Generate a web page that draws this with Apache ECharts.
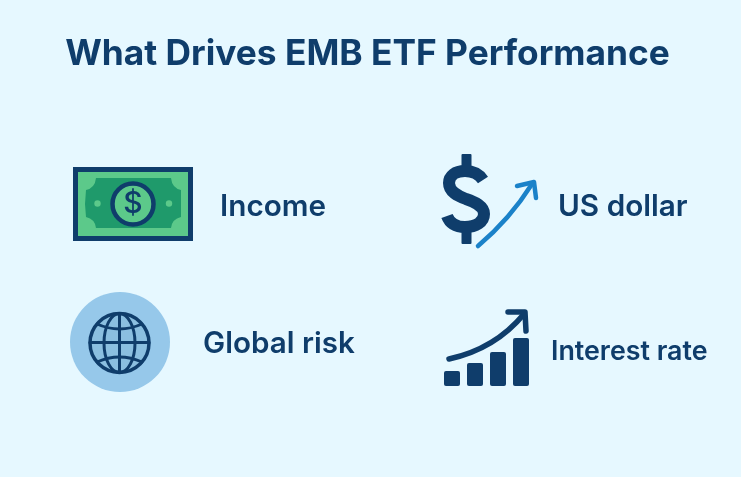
<!DOCTYPE html>
<html>
<head>
<meta charset="utf-8">
<style>html,body{margin:0;padding:0;background:#e6f8ff}#c{width:741px;height:477px}</style>
<script src="https://cdn.jsdelivr.net/npm/echarts@6/dist/echarts.min.js"></script>
</head>
<body>
<div id="c"></div>
<script>
const titleText = 'What Drives EMB ETF Performance';
const driverLabels = ['Income', 'US dollar', 'Global risk', 'Interest rate'];
const barCategories = ['a', 'b', 'c', 'd'];
const barValues = [15, 23, 34, 48];

const NAVY = '#0f3d6b', BLUE = '#1b82c9';
const stroke = (w, c) => ({ stroke: c || NAVY, lineWidth: w, fill: null, lineCap: 'round', lineJoin: 'round' });
let shapeCount = 0;
const raw = (d, style) => {
  const name = 'iconPath' + (shapeCount++);
  echarts.graphic.registerShape(name, echarts.graphic.extendPath(d, {}));
  return { type: name, style };
};
const label = (t, x, y, size) => ({ type: 'text', x, y, style: { text: t, fill: NAVY, font: '600 ' + size + 'px Inter', textAlign: 'left', textVerticalAlign: 'middle' } });

const chart = echarts.init(document.getElementById('c'), null, { renderer: 'canvas' });
chart.setOption({
  backgroundColor: '#e6f8ff',
  animation: false,
  grid: { left: 440.5, top: 336, width: 92, height: 50, containLabel: false },
  xAxis: { type: 'category', data: barCategories, show: false },
  yAxis: { type: 'value', min: 0, max: 50, show: false },
  series: [{
    type: 'bar', data: barValues, barWidth: 16,
    itemStyle: { color: NAVY, borderRadius: 2 }, silent: true
  }],
  graphic: { elements: [
    { type: 'text', x: 367.5, y: 54, style: { text: titleText, fill: NAVY, font: '700 35.3px Inter', textAlign: 'center', textVerticalAlign: 'middle' } },

    // banknote
    { type: 'rect', shape: { x: 75.5, y: 169.5, width: 115, height: 69 }, style: { fill: '#5cc98a', stroke: NAVY, lineWidth: 5 } },
    raw('M96 178 L171 178 Q172 188 181 190 L181 217 Q172 219 171 228 L96 228 Q95 219 86 217 L85 204 L86 190 Q95 188 96 178 Z', { fill: '#1f9a6b' }),
    { type: 'circle', shape: { cx: 133, cy: 204, r: 20.5 }, style: { fill: '#5cc98a', stroke: NAVY, lineWidth: 4.5 } },
    { type: 'circle', shape: { cx: 97.5, cy: 203.5, r: 3.2 }, style: { fill: '#5cc98a' } },
    { type: 'circle', shape: { cx: 169, cy: 203.5, r: 3.2 }, style: { fill: '#5cc98a' } },
    { type: 'text', x: 133, y: 204, style: { text: '$', fill: NAVY, font: '500 30px Inter', textAlign: 'center', textVerticalAlign: 'middle' } },

    // dollar with arrow
    raw('M483 180 C479 174 472 171 465 171 C455 171 449 176 449 183 C449 192 458 196 466 199 C475 202 484 206 484 214 C484 222 476 227 465 227 C456 227 450 224 447 216', { stroke: NAVY, lineWidth: 12, fill: null, lineCap: 'butt' }),
    { type: 'rect', shape: { x: 461.5, y: 154, width: 10, height: 13, r: 1 }, style: { fill: NAVY } },
    { type: 'rect', shape: { x: 461.5, y: 231, width: 10, height: 13, r: 1 }, style: { fill: NAVY } },
    raw('M478 246 Q510 219 532 184', stroke(4.5, BLUE)),
    raw('M517 186 L534 182 L536 198', stroke(4.5, BLUE)),

    // globe
    { type: 'circle', shape: { cx: 120, cy: 342, r: 50 }, style: { fill: '#96c8ea' } },
    { type: 'circle', shape: { cx: 119.5, cy: 343, r: 29.5 }, style: { fill: '#8bbfe0', stroke: NAVY, lineWidth: 3.5 } },
    { type: 'ellipse', shape: { cx: 119.5, cy: 343, rx: 15.5, ry: 29.5 }, style: stroke(3) },
    raw('M119.5 313.5 L119.5 372.5 M90 342.5 L149 342.5', stroke(3)),
    raw('M97 324 Q119.5 334 142 324', stroke(3)),
    raw('M97 362 Q119.5 352 142 362', stroke(3)),

    // rising arrow above the bars
    raw('M449 359 Q495 349 524 314', stroke(5.5)),
    raw('M508 312 L525 312 L526 331', stroke(5.5)),

    label(driverLabels[0], 220, 207, 29.7),
    label(driverLabels[1], 558, 207, 29.7),
    label(driverLabels[2], 203, 344, 29.6),
    label(driverLabels[3], 551, 352, 26.8)
  ] }
});
</script>
</body>
</html>
